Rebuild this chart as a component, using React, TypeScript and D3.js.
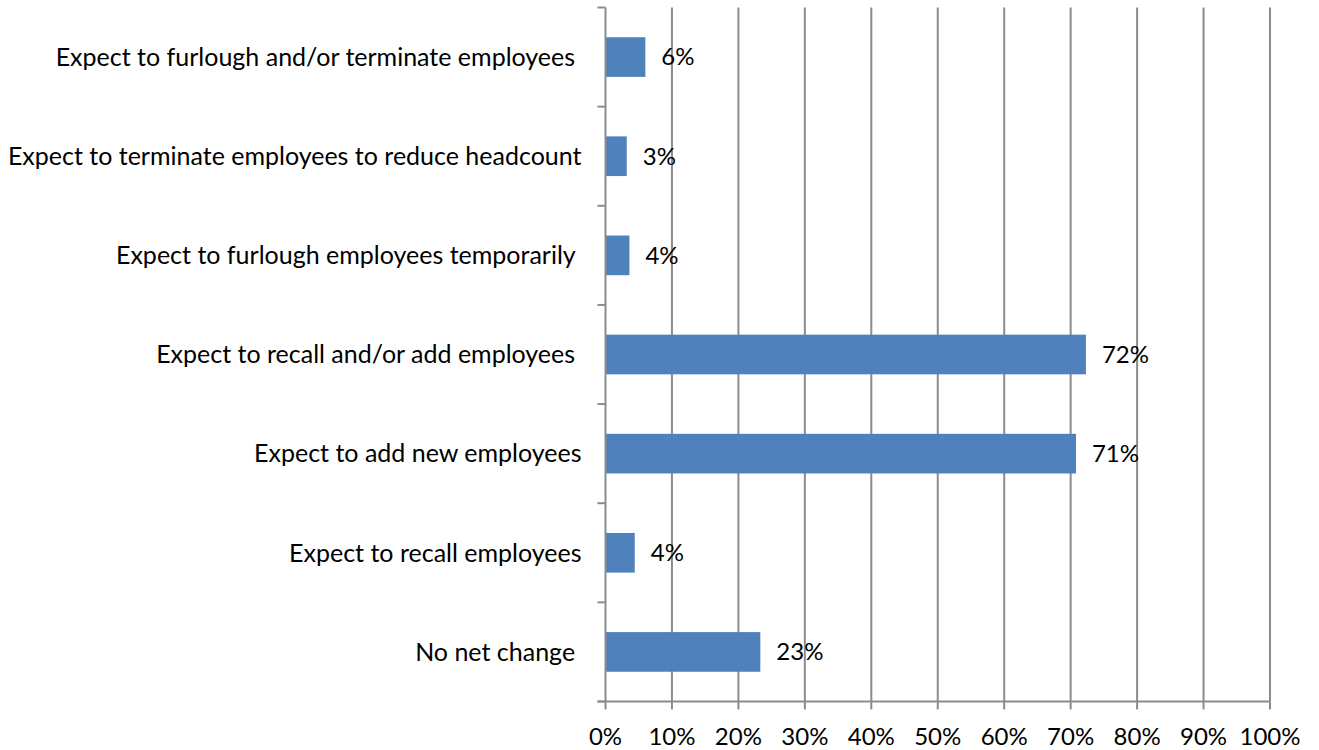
import { useEffect, useRef } from "react";
import * as d3 from "d3";

// Categories top to bottom (trailing spaces kept as in the source chart)
const categories = [
  "Expect to furlough and/or terminate employees ",
  "Expect to terminate employees to reduce headcount",
  "Expect to furlough employees temporarily ",
  "Expect to recall and/or add employees ",
  "Expect to add new employees",
  "Expect to recall employees",
  "No net change ",
];

const values = [0.06, 0.032, 0.036, 0.723, 0.708, 0.044, 0.233];

const xTicks = [0, 0.1, 0.2, 0.3, 0.4, 0.5, 0.6, 0.7, 0.8, 0.9, 1.0];

export default function App() {
  const ref = useRef<SVGSVGElement>(null);

  useEffect(() => {
    if (!ref.current) return;
    const svg = d3.select(ref.current);
    svg.selectAll("*").remove();

    const width = 1319;
    const height = 750;
    const margin = { top: 7.5, right: 49, bottom: 48.5, left: 605.5 };
    const font = "Lato, 'Open Sans', sans-serif";
    const fontSize = 24;
    const grid = "#8c8c8c";

    svg.attr("viewBox", `0 0 ${width} ${height}`);

    const x = d3.scaleLinear().domain([0, 1]).range([margin.left, width - margin.right]);
    const y = d3
      .scaleBand<string>()
      .domain(categories)
      .range([margin.top, height - margin.bottom])
      .paddingInner(0.6)
      .paddingOuter(0.3);

    const step = y.step();
    const y0 = margin.top;
    const y1 = height - margin.bottom;

    // vertical gridlines
    svg
      .append("g")
      .selectAll("line")
      .data(xTicks.slice(1))
      .enter()
      .append("line")
      .attr("x1", (d) => x(d))
      .attr("x2", (d) => x(d))
      .attr("y1", y0)
      .attr("y2", y1)
      .attr("stroke", grid)
      .attr("stroke-width", 2);

    // bars
    svg
      .append("g")
      .selectAll("rect")
      .data(values)
      .enter()
      .append("rect")
      .attr("x", x(0))
      .attr("y", (_, i) => y(categories[i]) || 0)
      .attr("width", (d) => x(d) - x(0))
      .attr("height", y.bandwidth())
      .attr("fill", "#4f81bd");

    // left axis line + ticks
    const axis = svg.append("g").attr("stroke", grid).attr("stroke-width", 2);
    axis.append("line").attr("x1", x(0)).attr("x2", x(0)).attr("y1", y0).attr("y2", y1);
    axis
      .selectAll(".ytick")
      .data(d3.range(categories.length + 1))
      .enter()
      .append("line")
      .attr("x1", x(0) - 8)
      .attr("x2", x(0))
      .attr("y1", (i) => y0 + i * step)
      .attr("y2", (i) => y0 + i * step);

    // bottom axis line + ticks
    axis.append("line").attr("x1", x(0) - 8).attr("x2", x(1)).attr("y1", y1).attr("y2", y1);
    axis
      .selectAll(".xtick")
      .data(xTicks)
      .enter()
      .append("line")
      .attr("x1", (d) => x(d))
      .attr("x2", (d) => x(d))
      .attr("y1", y1)
      .attr("y2", y1 + 8);

    // x tick labels
    svg
      .append("g")
      .selectAll("text")
      .data(xTicks)
      .enter()
      .append("text")
      .attr("x", (d) => x(d))
      .attr("y", y1 + 43.5)
      .attr("text-anchor", "middle")
      .attr("font-family", font)
      .attr("font-size", fontSize)
      .attr("fill", "#000")
      .text((d) => `${Math.round(d * 100)}%`);

    // category labels
    svg
      .append("g")
      .selectAll("text")
      .data(categories)
      .enter()
      .append("text")
      .attr("x", x(0) - 24)
      .attr("y", (d) => (y(d) || 0) + y.bandwidth() / 2)
      .attr("dy", "0.35em")
      .attr("text-anchor", "end")
      .attr("font-family", font)
      .attr("font-size", 25)
      .attr("fill", "#000")
      .style("white-space", "pre")
      .text((d) => d);

    // value labels
    svg
      .append("g")
      .selectAll("text")
      .data(values)
      .enter()
      .append("text")
      .attr("x", (d) => x(d) + 16)
      .attr("y", (_, i) => (y(categories[i]) || 0) + y.bandwidth() / 2)
      .attr("dy", "0.35em")
      .attr("font-family", font)
      .attr("font-size", fontSize)
      .attr("fill", "#000")
      .text((d) => `${Math.round(d * 100)}%`);
  }, []);

  return (
    <svg
      ref={ref}
      width={1319}
      height={750}
      style={{ position: "absolute", left: 0, top: 0, background: "#fff" }}
    ></svg>
  );
}
